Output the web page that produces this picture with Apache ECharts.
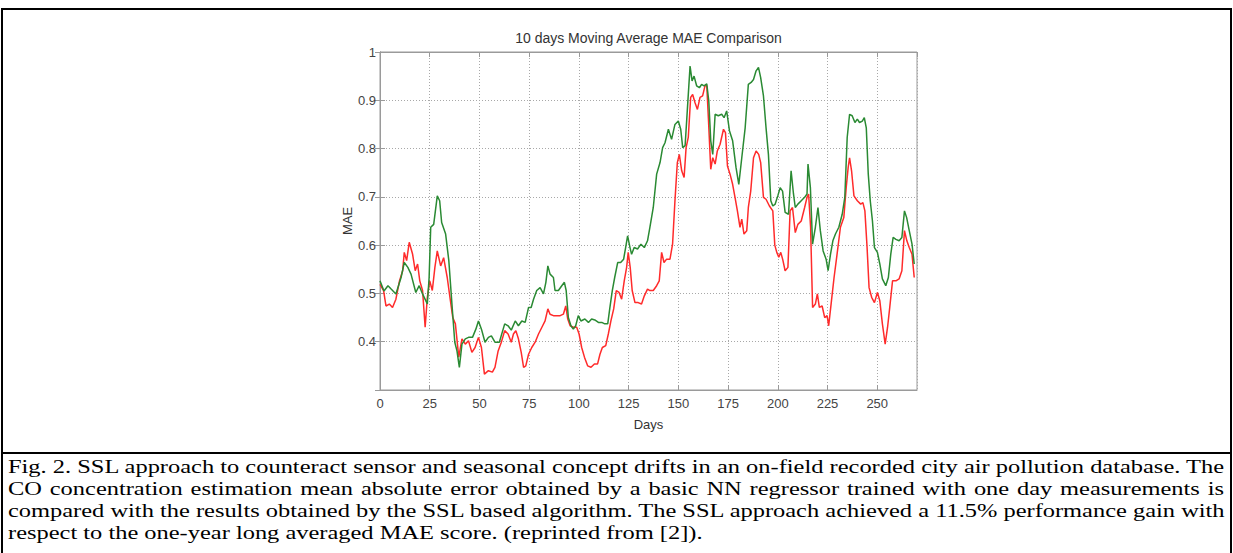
<!DOCTYPE html>
<html>
<head>
<meta charset="utf-8">
<title>10 days Moving Average MAE Comparison</title>
<script src="https://cdn.jsdelivr.net/npm/echarts/dist/echarts.min.js"></script>
<style>
  html, body { margin: 0; padding: 0; background: #fff; }
  #wrap { position: relative; width: 1233px; height: 553px; overflow: hidden; }
  #chart { position: absolute; left: 0; top: 0; width: 1233px; height: 553px; }
  #caption {
    position: absolute; left: 8px; top: 456px;
    font-family: "Liberation Serif", "Times New Roman", serif;
    font-size: 18px; line-height: 22px; color: #000;
    transform-origin: 0 0; white-space: nowrap;
  }
  #caption .ln { text-align: left; }
  #caption .just { text-align: justify; text-align-last: justify; }
  .probe { position: absolute; visibility: hidden; white-space: nowrap;
    font-family: "Liberation Serif", "Times New Roman", serif; font-size: 18px; }
</style>
</head>
<body>
<div id="wrap">
  <div id="chart"></div>
  <div id="caption"></div>
</div>
<script>
// Axis settings
const dayMin = 0, dayMax = 270, dayStep = 25;
const maeMin = 0.3, maeMax = 1, maeStep = 0.1;

const chartTitle = '10 days Moving Average MAE Comparison';
const xName = 'Days';
const yName = 'MAE';

// Basic NN regressor trained with one day of measurements: [day, MAE]
const nnMAE = [
  [0,0.526],[2,0.505],[4,0.516],[5.6,0.509],[8,0.499],[10.6,0.533],[12.2,0.564],[14,0.554],
  [15.6,0.54],[18,0.502],[19.7,0.516],[21.4,0.499],[23,0.485],[23.8,0.478],[24.7,0.533],
  [25.5,0.637],[27,0.643],[28.8,0.702],[30,0.692],[31,0.647],[33,0.623],[34.6,0.568],
  [36.3,0.471],[37.6,0.399],[38.7,0.381],[39.9,0.347],[41.2,0.395],[42.9,0.406],[44.5,0.409],
  [46.5,0.409],[48.2,0.426],[49.5,0.443],[51,0.426],[52.8,0.399],[54.5,0.409],[56,0.412],
  [57.8,0.399],[60,0.399],[62.7,0.437],[64.4,0.433],[66,0.424],[68,0.443],[69.6,0.433],
  [71.3,0.443],[73,0.44],[74.7,0.471],[76,0.471],[77.2,0.488],[78.8,0.506],[80.5,0.512],
  [82.2,0.499],[83.4,0.523],[84.4,0.557],[85.5,0.54],[87.2,0.533],[88,0.506],[89.7,0.506],
  [91.4,0.516],[92.7,0.523],[93.6,0.506],[94.7,0.45],[96,0.433],[97.2,0.426],[98.4,0.433],
  [99.7,0.454],[101,0.443],[103,0.447],[104.8,0.44],[106.4,0.447],[108,0.445],[109.8,0.44],
  [111.5,0.44],[113,0.437],[114.5,0.437],[115.6,0.471],[116.8,0.506],[118,0.533],[119.5,0.564],
  [121,0.564],[122.5,0.571],[123.5,0.595],[124.5,0.619],[125.7,0.595],[126.5,0.581],
  [127.8,0.595],[129.5,0.592],[131.2,0.602],[132.9,0.595],[134.5,0.609],[135.7,0.637],
  [137.4,0.678],[139.1,0.747],[140.8,0.771],[142.1,0.802],[143.3,0.812],[145,0.84],
  [146.6,0.819],[148.3,0.85],[150,0.857],[151.2,0.84],[152.2,0.802],[153.4,0.806],
  [154.5,0.878],[155.9,0.971],[156.9,0.94],[157.9,0.95],[159.2,0.93],[160.6,0.926],
  [161.7,0.933],[162.9,0.93],[164.3,0.934],[165.3,0.899],[166.3,0.816],[167.3,0.788],
  [168.5,0.871],[170.1,0.868],[171.8,0.871],[173,0.864],[174.3,0.878],[175.7,0.837],
  [177.3,0.816],[179,0.761],[180.4,0.726],[181.9,0.781],[183.6,0.843],[185.2,0.933],
  [186.6,0.937],[187.8,0.943],[189.1,0.961],[190.3,0.968],[191.4,0.947],[192.8,0.909],
  [194.1,0.843],[195.3,0.788],[196.5,0.692],[197.5,0.681],[198.7,0.685],[200,0.702],
  [201.2,0.719],[202.4,0.712],[203.7,0.668],[205.4,0.664],[206.7,0.754],[207.9,0.706],
  [208.8,0.678],[210.1,0.685],[211.8,0.692],[213.5,0.699],[214.7,0.706],[215.2,0.768],
  [216.4,0.719],[217.5,0.602],[218.9,0.637],[220.2,0.678],[221.4,0.63],[222.8,0.588],
  [224.3,0.571],[225.3,0.547],[226.5,0.581],[227.7,0.609],[229,0.623],[230.7,0.637],
  [232.4,0.664],[233.7,0.699],[234.9,0.823],[236.1,0.871],[237.4,0.868],[238.8,0.854],
  [240,0.861],[241.1,0.854],[242.5,0.857],[243.5,0.864],[244.5,0.843],[245.5,0.747],
  [246.5,0.692],[247.6,0.65],[248.6,0.595],[250.1,0.585],[251.3,0.561],[252.6,0.53],
  [254.3,0.516],[255.6,0.533],[256.8,0.581],[258,0.616],[259.4,0.612],[261,0.609],
  [262.4,0.616],[263.7,0.671],[264.8,0.657],[266.1,0.63],[267.5,0.602],[268.6,0.561]
];

// SSL based algorithm: [day, MAE]
const sslMAE = [
  [0,0.519],[1.8,0.506],[3,0.474],[4.7,0.478],[6.3,0.471],[8,0.488],[9.8,0.526],[11.4,0.547],
  [12.2,0.585],[13.4,0.568],[14.7,0.606],[16.4,0.581],[17.7,0.547],[18.9,0.561],[20,0.526],
  [21.4,0.506],[22.7,0.43],[23.8,0.492],[25,0.526],[26.3,0.506],[27.6,0.554],[28.8,0.588],
  [30.5,0.557],[32,0.574],[33.8,0.533],[35.4,0.485],[36.6,0.45],[37.9,0.437],[39.6,0.368],
  [41.2,0.406],[42.9,0.395],[44.5,0.402],[46.2,0.378],[47.8,0.388],[49.5,0.409],[51,0.388],
  [52.5,0.333],[54.5,0.34],[56.5,0.337],[57.8,0.347],[59.4,0.381],[61,0.399],[62.7,0.423],
  [64.4,0.416],[66,0.399],[67.1,0.416],[68.3,0.423],[69.6,0.406],[71,0.378],[72.2,0.347],
  [73.3,0.35],[74.7,0.374],[76.3,0.388],[78,0.399],[79.7,0.416],[81.4,0.43],[83,0.443],
  [84.4,0.468],[85.5,0.457],[87.2,0.454],[88.9,0.454],[90.6,0.454],[92.2,0.457],[93.4,0.474],
  [94.4,0.447],[95.6,0.433],[97.2,0.43],[98.9,0.43],[100.1,0.416],[101.4,0.388],[102.8,0.368],
  [104.4,0.35],[106.1,0.347],[107.8,0.354],[109.4,0.354],[110.6,0.374],[111.8,0.388],
  [113.5,0.392],[114.8,0.416],[116.1,0.443],[117.5,0.468],[118.8,0.506],[120.2,0.502],
  [121.5,0.488],[122.8,0.526],[124,0.554],[124.8,0.585],[125.8,0.554],[126.8,0.506],
  [128.2,0.481],[129.8,0.481],[131.5,0.478],[132.9,0.495],[134.5,0.509],[135.7,0.506],
  [137.4,0.506],[139.1,0.516],[140.4,0.526],[141.6,0.585],[142.8,0.564],[144.1,0.571],
  [145.8,0.571],[147.1,0.602],[148.3,0.692],[149.5,0.771],[150.5,0.788],[151.7,0.754],
  [152.9,0.74],[153.9,0.802],[155,0.823],[156.2,0.906],[157.2,0.912],[158.4,0.895],
  [159.6,0.881],[160.9,0.906],[162.2,0.909],[163.4,0.93],[164.3,0.93],[165.1,0.864],
  [166.3,0.757],[167.3,0.781],[168.5,0.768],[169.6,0.795],[171,0.809],[172.7,0.84],
  [173.7,0.833],[174.7,0.764],[176,0.747],[177.3,0.726],[178.5,0.699],[179.7,0.671],
  [181,0.637],[181.9,0.654],[183,0.623],[184.4,0.63],[185.2,0.678],[186.4,0.712],
  [187.8,0.781],[189.1,0.795],[190.4,0.788],[191.4,0.771],[192.8,0.699],[194.1,0.695],
  [195.8,0.681],[197.5,0.671],[198.5,0.6],[199.5,0.585],[200.5,0.575],[201.5,0.585],
  [202.5,0.57],[203.7,0.547],[205.1,0.554],[206.2,0.671],[207.4,0.678],[208.8,0.626],
  [210.1,0.643],[211.8,0.65],[213.5,0.678],[214.7,0.699],[215.5,0.706],[216.5,0.637],
  [217.5,0.471],[218.9,0.478],[219.9,0.499],[220.9,0.471],[222.3,0.474],[223.6,0.45],
  [224.8,0.454],[225.6,0.433],[227,0.485],[228.3,0.533],[229.8,0.581],[231.5,0.637],
  [233.2,0.657],[234.4,0.719],[235.4,0.761],[236.1,0.781],[237.1,0.754],[238.3,0.702],
  [240,0.692],[241.7,0.685],[242.8,0.688],[243.8,0.671],[244.9,0.595],[245.9,0.512],
  [247.2,0.492],[248.6,0.481],[250.1,0.502],[251.3,0.485],[252.6,0.437],[254,0.395],
  [255.2,0.43],[256.3,0.471],[257.7,0.526],[259.4,0.526],[261,0.53],[262.4,0.547],
  [263.7,0.63],[264.9,0.609],[266.1,0.595],[267.5,0.581],[268.6,0.533]
];

const captionLines = [
  'Fig. 2. SSL approach to counteract sensor and seasonal concept drifts in an on-field recorded city air pollution database. The',
  'CO concentration estimation mean absolute error obtained by a basic NN regressor trained with one day measurements is',
  'compared with the results obtained by the SSL based algorithm. The SSL approach achieved a 11.5% performance gain with',
  'respect to the one-year long averaged MAE score. (reprinted from [2]).'
];

const FONT = '"Liberation Sans", Arial, Helvetica, sans-serif';
const axisGray = '#9a9a9a';
const gridDots = { type: [1, 2], color: '#a8a8a8', width: 1 };

const chart = echarts.init(document.getElementById('chart'), null, { renderer: 'svg' });

chart.setOption({
  animation: false,
  backgroundColor: '#fff',
  textStyle: { fontFamily: FONT },
  title: {
    text: chartTitle,
    left: 648.5, top: 31, textAlign: 'center', padding: 0,
    textStyle: { fontFamily: FONT, fontSize: 14, fontWeight: 'normal', color: '#333' }
  },
  grid: { left: 380, top: 52, width: 537, height: 338, show: true, borderColor: axisGray, borderWidth: 1, containLabel: false },
  xAxis: [{
    type: 'value', min: dayMin, max: dayMax, interval: dayStep, position: 'bottom',
    name: xName, nameLocation: 'middle', nameGap: 28,
    nameTextStyle: { fontFamily: FONT, fontSize: 13, color: '#333' },
    axisLine: { show: true, lineStyle: { color: axisGray } },
    axisTick: { show: true, inside: true, length: 5, lineStyle: { color: axisGray } },
    axisLabel: { fontFamily: FONT, fontSize: 13, color: '#444', margin: 7, showMaxLabel: false },
    splitLine: { show: true, lineStyle: gridDots }
  }, {
    type: 'value', min: dayMin, max: dayMax, interval: dayStep, position: 'top',
    axisLine: { show: true, lineStyle: { color: axisGray } },
    axisTick: { show: true, inside: true, length: 5, lineStyle: { color: axisGray } },
    axisLabel: { show: false }, splitLine: { show: false }
  }],
  yAxis: [{
    type: 'value', min: maeMin, max: maeMax, interval: maeStep, position: 'left',
    name: yName, nameLocation: 'middle', nameGap: 25,
    nameTextStyle: { fontFamily: FONT, fontSize: 13, color: '#333' },
    axisLine: { show: true, lineStyle: { color: axisGray } },
    axisTick: { show: true, inside: true, length: 5, lineStyle: { color: axisGray } },
    axisLabel: { fontFamily: FONT, fontSize: 13, color: '#444', margin: 4, showMinLabel: false,
      formatter: v => (Math.round(v * 10) / 10).toString() },
    splitLine: { show: true, lineStyle: gridDots }
  }, {
    type: 'value', min: maeMin, max: maeMax, interval: maeStep, position: 'right',
    axisLine: { show: true, lineStyle: { color: axisGray } },
    axisTick: { show: true, inside: true, length: 5, lineStyle: { color: axisGray } },
    axisLabel: { show: false }, splitLine: { show: false }
  }],
  series: [{
    name: 'SSL', type: 'line', data: sslMAE, xAxisIndex: 0, yAxisIndex: 0,
    showSymbol: false, symbol: 'none', lineStyle: { color: '#ff2b2b', width: 1.5 }, z: 3
  }, {
    name: 'NN', type: 'line', data: nnMAE, xAxisIndex: 0, yAxisIndex: 0,
    showSymbol: false, symbol: 'none', lineStyle: { color: '#2a8a33', width: 1.5 }, z: 4
  }],
  graphic: [
    { type: 'line', shape: { x1: 1, y1: 9, x2: 1232, y2: 9 }, style: { stroke: '#000', lineWidth: 2 } },
    { type: 'line', shape: { x1: 2, y1: 9, x2: 2, y2: 553 }, style: { stroke: '#000', lineWidth: 2 } },
    { type: 'line', shape: { x1: 1231, y1: 9, x2: 1231, y2: 553 }, style: { stroke: '#000', lineWidth: 2 } },
    { type: 'line', shape: { x1: 1, y1: 453, x2: 1232, y2: 453 }, style: { stroke: '#000', lineWidth: 2 } }
  ]
});

// Figure caption: fixed line breaks, justified, widened to span the frame
(function () {
  const cap = document.getElementById('caption');
  const target = 1216;
  let widest = 0;
  captionLines.forEach((t, i) => {
    const p = document.createElement('span');
    p.className = 'probe';
    p.textContent = t;
    document.body.appendChild(p);
    if (i < captionLines.length - 1) widest = Math.max(widest, p.offsetWidth);
    p.remove();
  });
  const s = target / widest;
  cap.style.width = (target / s) + 'px';
  cap.style.transform = 'scaleX(' + s + ')';
  captionLines.forEach((t, i) => {
    const d = document.createElement('div');
    d.className = 'ln' + (i < captionLines.length - 1 ? ' just' : '');
    d.textContent = t;
    cap.appendChild(d);
  });
})();
</script>
</body>
</html>
